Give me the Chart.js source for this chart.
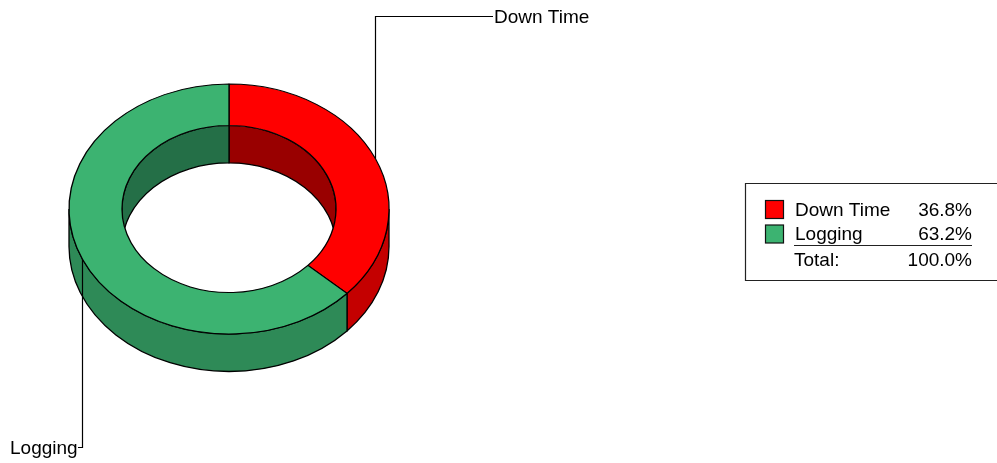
<!DOCTYPE html>
<html>
<head>
<meta charset="utf-8">
<style>html,body{margin:0;padding:0;background:#fff}canvas{display:block}</style>
<script src="https://cdn.jsdelivr.net/npm/chart.js@4"></script>
</head>
<body>
<canvas id="c" width="997" height="463" style="width:997px;height:463px"></canvas>
<script>
const categories = ["Down Time", "Logging"];
const shares = [36.8, 63.2];
const totalLabel = "Total:";
const shareLabels = ["36.8%", "63.2%"];
const totalShare = "100.0%";
const topColors = ["#FF0000", "#3CB371"];
const outerWallColors = ["#C40000", "#2E8A57"];
const innerWallColors = ["#990000", "#246F47"];

const FONT = '19px "Liberation Sans", Arial, sans-serif';
const TILT = 125 / 160, DEPTH = 37.5, TARGET_Y = 209;
const TAU = Math.PI * 2;

function clampRanges(a, b, lo, hi) {
  const out = [];
  for (let k = -2; k <= 2; k++) {
    const s = Math.max(a + k * TAU, lo), e = Math.min(b + k * TAU, hi);
    if (e > s) out.push([s, e]);
  }
  return out;
}

const ring3d = {
  id: 'ring3d',
  beforeDatasetsDraw(chart) {
    const ctx = chart.ctx, arcs = chart.getDatasetMeta(0).data;
    const cx = arcs[0].x, R = arcs[0].outerRadius, r = arcs[0].innerRadius;
    const Ry = R * TILT, ry = r * TILT, cy = TARGET_Y;
    ctx.save();
    ctx.lineWidth = 1.3; ctx.strokeStyle = '#000';
    // outer wall (front half)
    arcs.forEach((el, i) => {
      clampRanges(el.startAngle, el.endAngle, 0, Math.PI).forEach(([a, b]) => {
        ctx.beginPath();
        ctx.ellipse(cx, cy, R, Ry, 0, a, b);
        ctx.ellipse(cx, cy + DEPTH, R, Ry, 0, b, a, true);
        ctx.closePath();
        ctx.fillStyle = outerWallColors[i];
        ctx.fill(); ctx.stroke();
      });
    });
    // inner wall (back half, seen through the hole)
    ctx.save();
    ctx.beginPath();
    ctx.ellipse(cx, cy, r, ry, 0, 0, TAU);
    ctx.clip();
    arcs.forEach((el, i) => {
      clampRanges(el.startAngle, el.endAngle, Math.PI, TAU).forEach(([a, b]) => {
        ctx.beginPath();
        ctx.ellipse(cx, cy, r, ry, 0, a, b);
        ctx.ellipse(cx, cy + DEPTH, r, ry, 0, b, a, true);
        ctx.closePath();
        ctx.fillStyle = innerWallColors[i];
        ctx.fill(); ctx.stroke();
      });
    });
    ctx.restore();
    ctx.restore();
    // squash the library's own arcs into the tilted top face
    ctx.save();
    ctx.translate(cx, cy);
    ctx.scale(1, TILT);
    ctx.translate(-cx, -arcs[0].y);
  },
  afterDatasetsDraw(chart) {
    const ctx = chart.ctx, arcs = chart.getDatasetMeta(0).data;
    ctx.restore();
    const cx = arcs[0].x, R = arcs[0].outerRadius, Ry = R * TILT, cy = TARGET_Y;
    const mid = el => (el.startAngle + el.endAngle) / 2;
    const anchor = el => [Math.floor(cx + R * Math.cos(mid(el))) + 0.5, cy + Ry * Math.sin(mid(el))];
    ctx.save();
    ctx.strokeStyle = '#000'; ctx.lineWidth = 1.2; ctx.fillStyle = '#000';
    ctx.font = FONT; ctx.textBaseline = 'alphabetic';
    // callouts
    const [ax0, ay0] = anchor(arcs[0]);
    ctx.beginPath(); ctx.moveTo(ax0, ay0); ctx.lineTo(ax0, 16.5); ctx.lineTo(493, 16.5); ctx.stroke();
    ctx.textAlign = 'left';
    ctx.fillText(categories[0], 494, 23);
    const [ax1, ay1] = anchor(arcs[1]);
    ctx.beginPath(); ctx.moveTo(ax1, ay1); ctx.lineTo(ax1, 447.5); ctx.lineTo(78, 447.5); ctx.stroke();
    ctx.fillText(categories[1], 10, 454);
    // summary box
    ctx.strokeStyle = '#222';
    ctx.beginPath();
    ctx.moveTo(997, 183.5); ctx.lineTo(745.5, 183.5); ctx.lineTo(745.5, 280.5); ctx.lineTo(997, 280.5);
    ctx.stroke();
    const baselines = [216, 240];
    categories.forEach((name, i) => {
      ctx.fillStyle = topColors[i];
      ctx.fillRect(765.5, baselines[i] - 15.5 + i * 0.5, 18, 18);
      ctx.strokeStyle = '#111';
      ctx.strokeRect(765.5, baselines[i] - 15.5 + i * 0.5, 18, 18);
      ctx.fillStyle = '#000';
      ctx.textAlign = 'left'; ctx.fillText(name, 795, baselines[i]);
      ctx.textAlign = 'right'; ctx.fillText(shareLabels[i], 972, baselines[i]);
    });
    ctx.strokeStyle = '#222';
    ctx.beginPath(); ctx.moveTo(794, 245.5); ctx.lineTo(972, 245.5); ctx.stroke();
    ctx.textAlign = 'left'; ctx.fillText(totalLabel, 794, 266);
    ctx.textAlign = 'right'; ctx.fillText(totalShare, 972, 266);
    ctx.restore();
  }
};

new Chart(document.getElementById('c'), {
  type: 'doughnut',
  data: {
    labels: categories,
    datasets: [{ data: shares, backgroundColor: topColors, borderColor: '#000', borderWidth: 1.3, hoverOffset: 0 }]
  },
  options: {
    responsive: false,
    animation: false,
    cutout: (107 / 160 * 100) + '%',
    layout: { padding: { left: 68.35, right: 607.35, top: 70.85, bottom: 70.85 } },
    plugins: { legend: { display: false }, tooltip: { enabled: false } },
    events: []
  },
  plugins: [ring3d]
});
</script>
</body>
</html>
